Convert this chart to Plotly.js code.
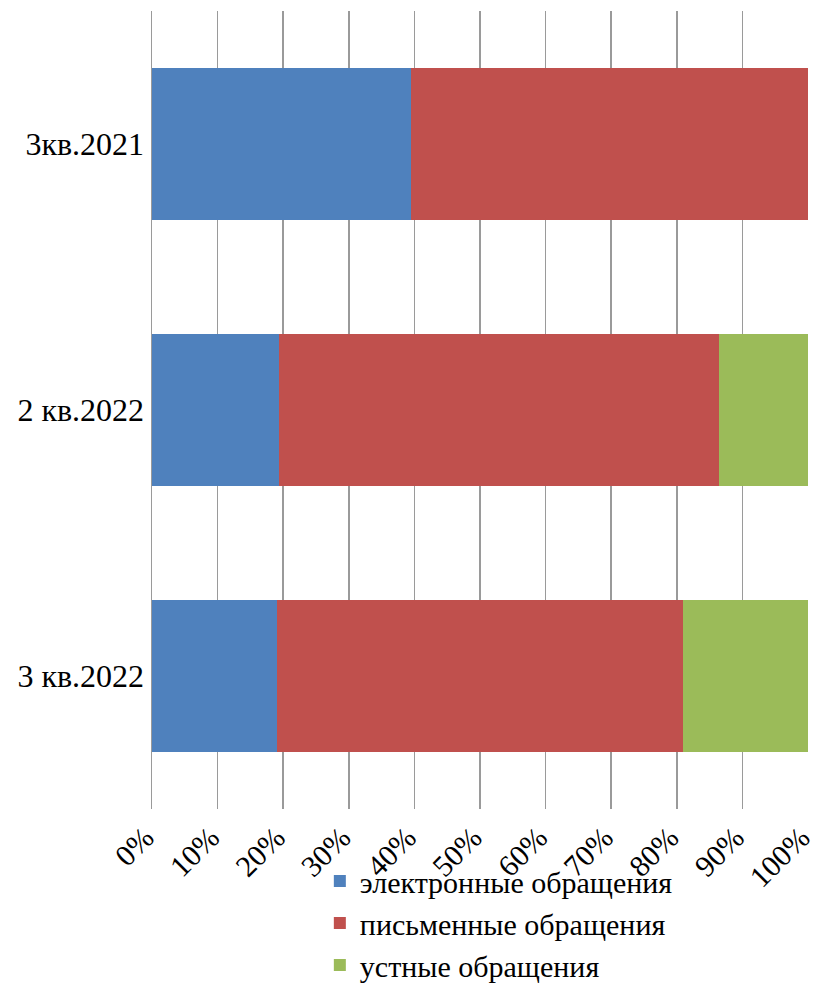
<!DOCTYPE html>
<html>
<head>
<meta charset="utf-8">
<script src="https://cdn.plot.ly/plotly-3.0.1.min.js"></script>
<style>html,body{margin:0;padding:0;background:#fff;}#chart{width:818px;height:984px;}</style>
</head>
<body>
<div id="chart"></div>
<script>
const categories = ['3кв.2021', '2 кв.2022', '3 кв.2022'];
const seriesNames = ['электронные обращения', 'письменные обращения', 'устные обращения'];
const electronic = [39.5, 19.3, 19.0];
const written = [60.5, 67.2, 62.0];
const oral = [0, 13.5, 19.0];
const colors = ['#4F81BD', '#C0504D', '#9BBB59'];
const tickVals = [0, 10, 20, 30, 40, 50, 60, 70, 80, 90, 100];
const tickText = ['0%', '10%', '20%', '30%', '40%', '50%', '60%', '70%', '80%', '90%', '100%'];

const seriesValues = [electronic, written, oral];
const traces = seriesValues.map((vals, i) => ({
  type: 'bar',
  orientation: 'h',
  name: seriesNames[i],
  y: categories,
  x: vals,
  marker: {color: colors[i], line: {width: 0}},
  hoverinfo: 'x+y+name'
}));

const font = 'Liberation Serif';
const layout = {
  width: 818,
  height: 984,
  margin: {l: 152, r: 10, t: 11, b: 175, autoexpand: false},
  paper_bgcolor: '#ffffff',
  plot_bgcolor: '#ffffff',
  barmode: 'stack',
  bargap: 0.43,
  font: {family: font, size: 32, color: '#000'},
  xaxis: {
    range: [0, 100.0001],
    tickvals: tickVals,
    ticktext: tickText,
    tickangle: -45,
    showgrid: true,
    gridcolor: '#9a9a9a',
    gridwidth: 1.5,
    zeroline: false,
    showline: false,
    ticks: '',
    automargin: false,
    ticklabeloverflow: 'allow',
    ticklabelstandoff: 4,
    ticklabelshift: -7,
    tickfont: {family: font, size: 30, color: '#000'},
    fixedrange: true
  },
  yaxis: {
    type: 'category',
    autorange: 'reversed',
    showgrid: false,
    zeroline: false,
    showline: true,
    linecolor: '#9a9a9a',
    linewidth: 1.5,
    ticks: '',
    automargin: false,
    ticklabelstandoff: 0,
    tickfont: {family: font, size: 32, color: '#000'},
    fixedrange: true
  },
  showlegend: true,
  legend: {
    orientation: 'v',
    xref: 'container',
    yref: 'container',
    x: 0.391,
    xanchor: 'left',
    y: 0.131,
    yanchor: 'top',
    font: {family: font, size: 30, color: '#000'},
    bgcolor: 'rgba(0,0,0,0)',
    tracegroupgap: 0,
    traceorder: 'normal'
  }
};

Plotly.newPlot('chart', traces, layout, {displayModeBar: false, staticPlot: true});
</script>
</body>
</html>
